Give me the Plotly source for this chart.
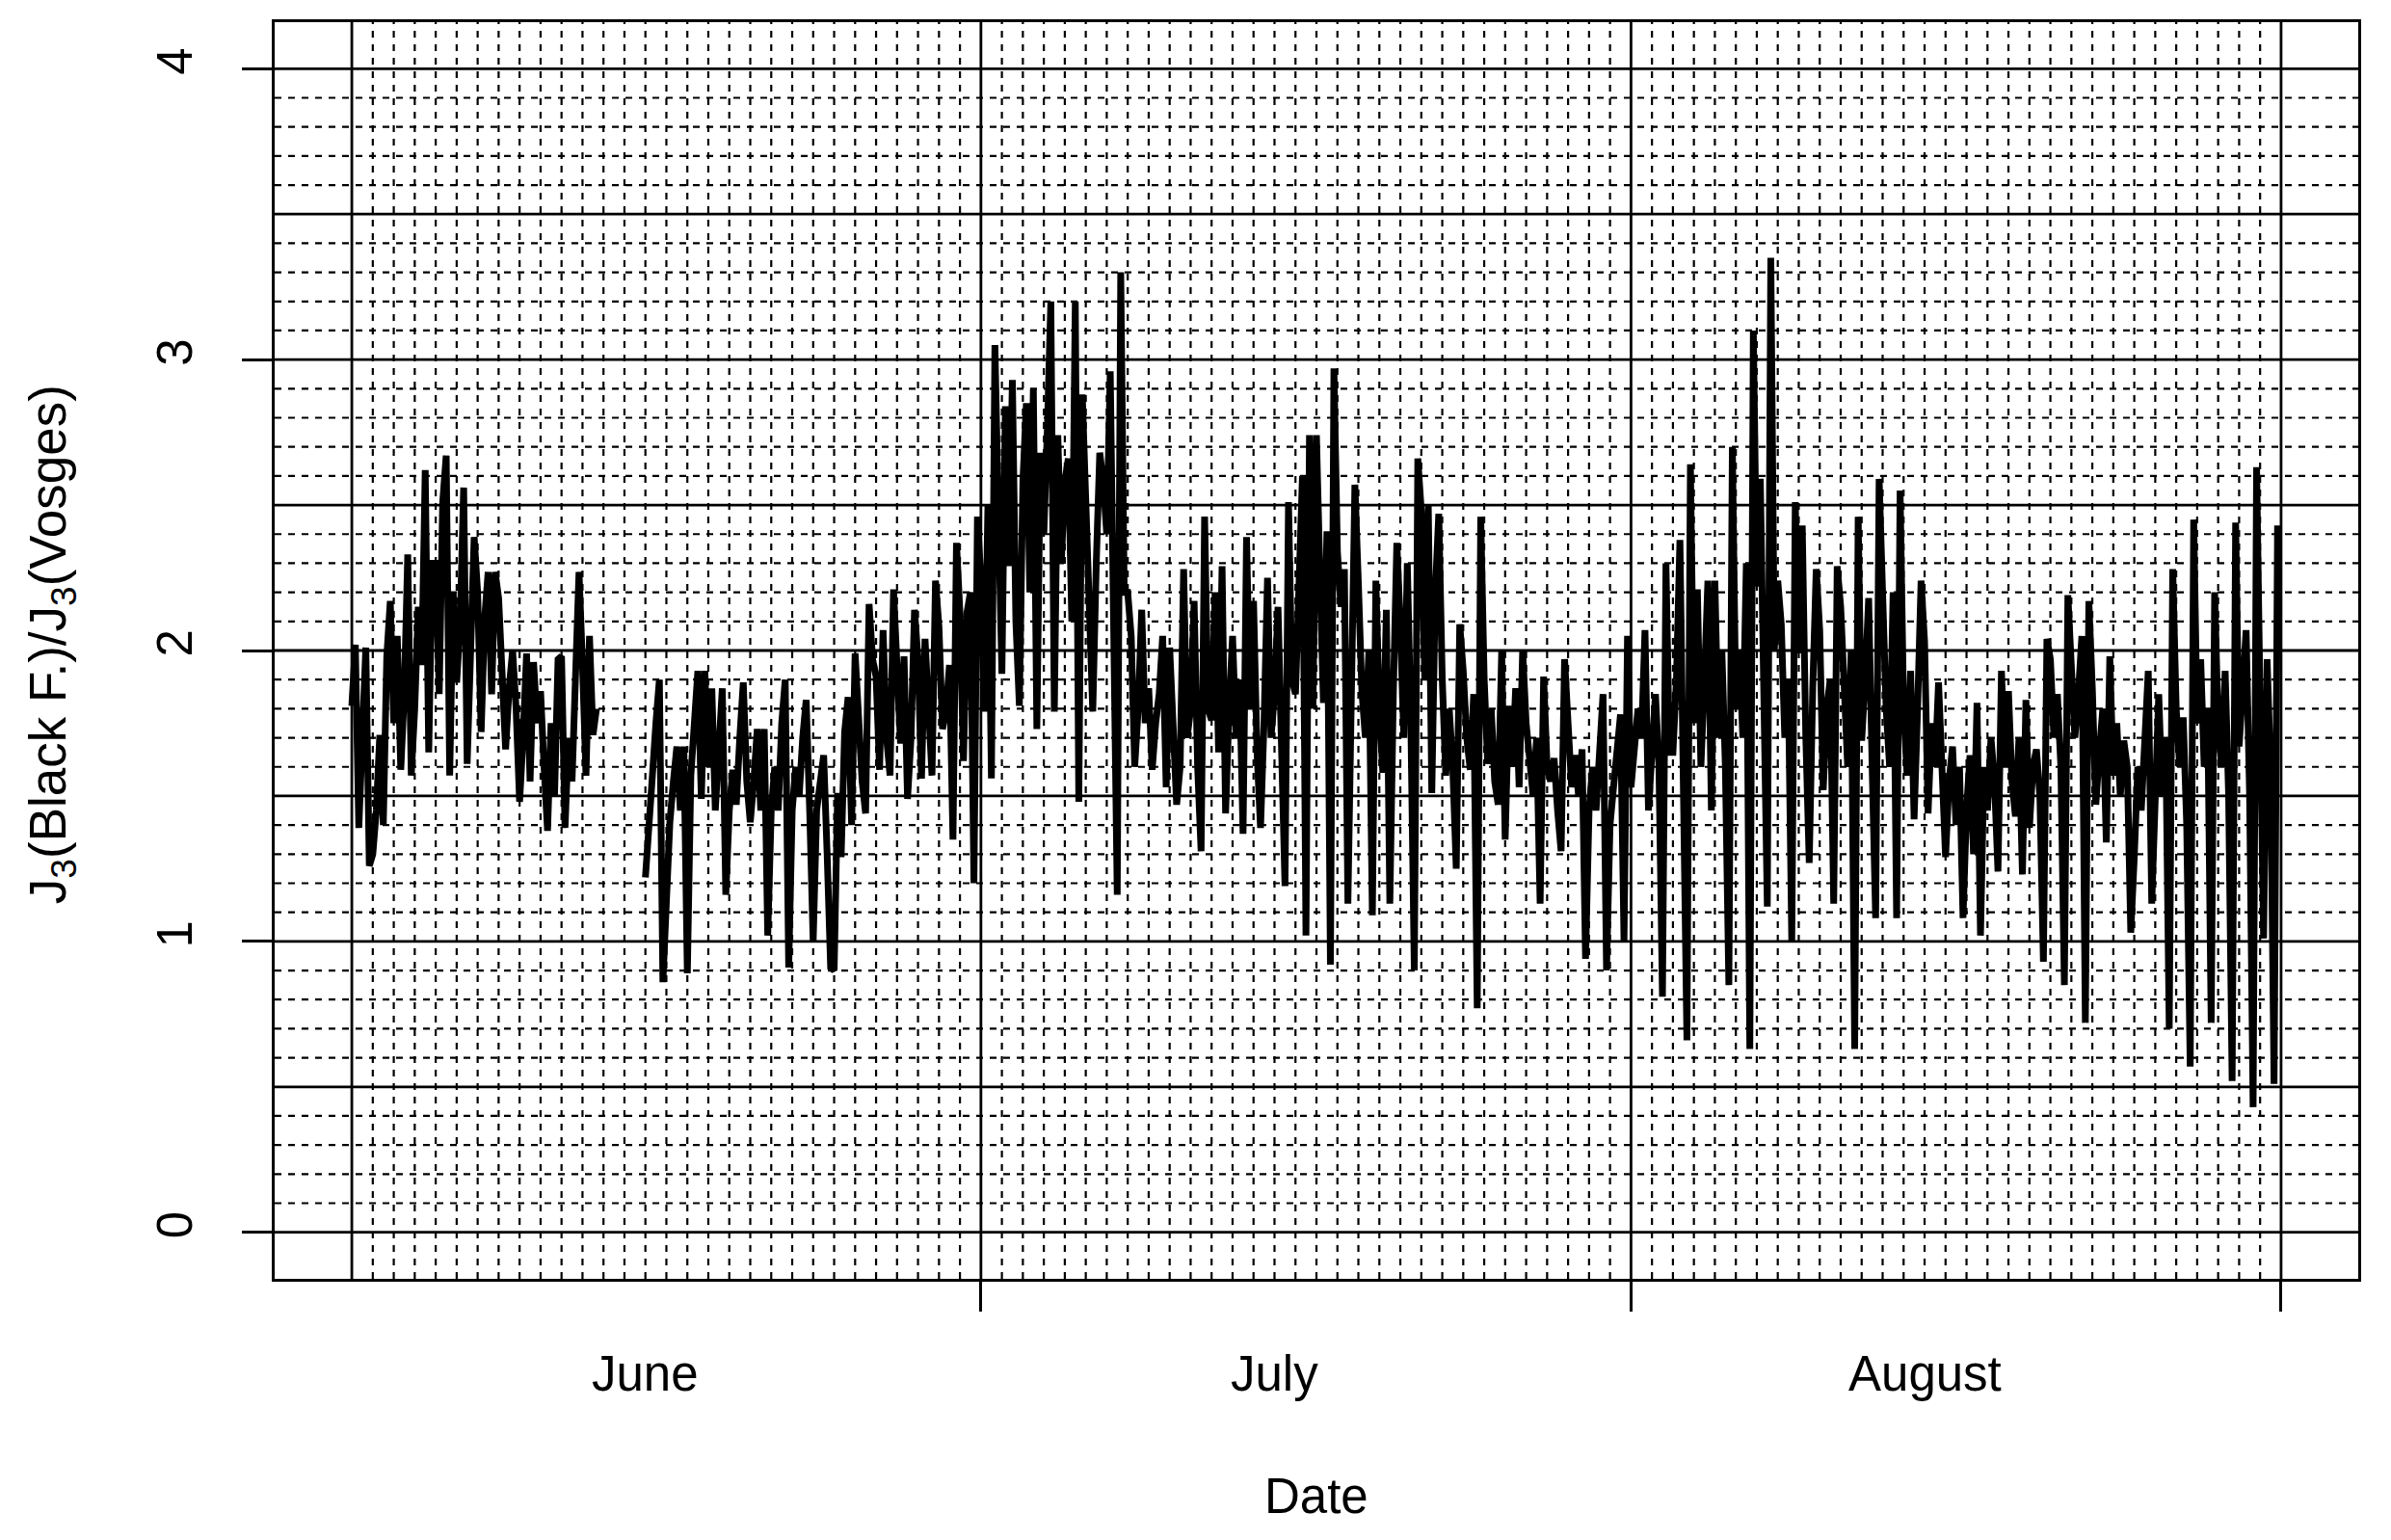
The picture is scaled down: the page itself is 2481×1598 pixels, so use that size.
import pandas as pd
import plotly.graph_objects as go

# ---------------- data (4-hourly readings) ----------------
month_starts = ["2014-06-01", "2014-07-01", "2014-08-01", "2014-09-01"]
month_labels = ["June", "July", "August"]
month_label_dates = ["2014-06-15", "2014-07-15", "2014-08-15"]
y_tick_vals = [0, 1, 2, 3, 4]

june_vals = [
    1.81, 2.02, 1.39, 1.72, 2.01, 1.26,
    1.30, 1.45, 1.71, 1.40, 1.98, 2.17,
    1.75, 2.05, 1.59, 1.85, 2.33, 1.57,
    1.80, 2.15, 1.95, 2.62, 1.65, 2.30,
    2.30, 1.85, 2.51, 2.67, 1.57, 2.20,
    1.89, 2.10, 2.56, 1.61, 2.00, 2.39,
    2.20, 1.72, 2.11, 2.27, 1.85, 2.27,
    2.18, 1.91, 1.66, 1.87, 2.00, 1.80,
    1.48, 1.70, 1.99, 1.55, 1.96, 1.75,
    1.86, 1.60, 1.38, 1.75, 1.50, 1.97,
    1.98, 1.39, 1.70, 1.55, 1.85, 2.27,
    1.95, 1.57, 2.05, 1.71, 1.80, None,
    None, None, None, None, None, None,
    None, None, None, None, None, None,
    1.22, 1.45, 1.57, 1.75, 1.90, 0.86,
    1.20, 1.41, 1.55, 1.67, 1.45, 1.67,
    0.89, 1.57, 1.75, 1.93, 1.49, 1.93,
    1.60, 1.87, 1.45, 1.70, 1.87, 1.16,
    1.45, 1.59, 1.47, 1.70, 1.89, 1.55,
    1.41, 1.55, 1.73, 1.45, 1.73, 1.02,
    1.45, 1.60, 1.45, 1.75, 1.90, 0.91,
    1.45, 1.60, 1.50, 1.70, 1.83, 1.45,
    1.00, 1.45, 1.55, 1.64, 1.30, 0.91,
    0.90, 1.51, 1.29, 1.72, 1.84, 1.40,
    1.99, 1.74, 1.55, 1.44, 2.16, 1.97,
    1.91, 1.59, 2.07, 1.70, 1.57, 2.21,
    1.98, 1.68, 1.98, 1.49, 1.70, 2.14,
    1.97, 1.56, 2.04, 1.75, 1.57, 2.24,
    2.08, 1.73, 1.79, 1.95, 1.35, 2.37,
    2.13, 1.62, 2.13, 2.20, 1.20, 2.46,
]

july_vals = [
    2.24, 1.79, 2.50, 1.56, 3.05, 2.48,
    1.92, 2.84, 2.29, 2.93, 2.10, 1.81,
    2.58, 2.85, 2.20, 2.90, 1.73, 2.68,
    2.40, 2.76, 3.20, 1.79, 2.74, 2.30,
    2.58, 2.66, 2.10, 3.20, 1.48, 2.88,
    2.52, 2.14, 1.79, 2.30, 2.68, 2.58,
    2.40, 2.96, 2.22, 1.16, 3.30, 2.20,
    2.20, 2.05, 1.60, 1.80, 2.14, 1.75,
    1.87, 1.59, 1.75, 1.85, 2.05, 1.53,
    2.01, 1.75, 1.47, 1.60, 2.28, 1.70,
    1.80, 2.17, 1.60, 1.31, 2.46, 1.80,
    1.76, 2.20, 1.65, 2.29, 1.44, 1.80,
    2.05, 1.70, 1.90, 1.37, 2.39, 1.80,
    2.17, 1.65, 1.39, 1.75, 2.25, 1.70,
    1.85, 2.15, 1.70, 1.19, 2.51, 1.90,
    1.85, 2.20, 2.60, 1.02, 2.74, 1.80,
    2.74, 2.26, 1.82, 2.41, 0.92, 2.97,
    2.34, 2.15, 2.28, 1.13, 1.80, 2.57,
    2.23, 1.86, 1.70, 2.00, 1.09, 2.24,
    1.80, 1.58, 2.14, 1.13, 1.85, 2.37,
    2.09, 1.70, 2.30, 1.76, 0.90, 2.66,
    2.48, 1.90, 2.50, 1.51, 2.20, 2.47,
    1.90, 1.57, 1.80, 1.60, 1.25, 2.09,
    1.93, 1.70, 1.59, 1.85, 0.77, 2.46,
    1.90, 1.61, 1.80, 1.55, 1.47, 2.00,
    1.35, 1.81, 1.60, 1.87, 1.53, 2.00,
    1.75, 1.62, 1.50, 1.70, 1.13, 1.91,
    1.60, 1.55, 1.63, 1.45, 1.31, 1.97,
    1.70, 1.53, 1.64, 1.50, 1.66, 0.94,
    1.45, 1.60, 1.45, 1.70, 1.85, 0.90,
    1.40, 1.53, 1.65, 1.78, 1.00, 2.05,
]

august_vals = [
    1.53, 1.64, 1.80, 1.70, 2.07, 1.45,
    1.70, 1.85, 1.60, 0.81, 2.30, 1.65,
    1.65, 1.90, 2.38, 1.50, 0.66, 2.64,
    1.75, 2.21, 1.60, 1.90, 2.24, 1.45,
    2.24, 1.70, 2.00, 1.60, 0.85, 2.70,
    1.80, 2.00, 1.70, 2.30, 0.63, 3.10,
    2.22, 2.59, 1.80, 1.12, 3.35, 2.00,
    2.24, 2.09, 1.70, 1.90, 1.00, 2.51,
    1.99, 2.43, 1.71, 1.27, 1.87, 2.28,
    2.07, 1.52, 1.80, 1.90, 1.13, 2.29,
    2.15, 1.87, 1.60, 2.00, 0.63, 2.46,
    1.69, 1.90, 2.18, 1.60, 1.08, 2.59,
    2.09, 1.80, 1.60, 2.20, 1.08, 2.55,
    1.80, 1.57, 1.93, 1.42, 1.80, 2.24,
    2.03, 1.44, 1.75, 1.60, 1.89, 1.50,
    1.29, 1.55, 1.67, 1.40, 1.60, 1.08,
    1.45, 1.64, 1.30, 1.82, 1.02, 1.60,
    1.45, 1.70, 1.55, 1.24, 1.93, 1.60,
    1.86, 1.55, 1.43, 1.70, 1.23, 1.83,
    1.39, 1.60, 1.66, 1.50, 0.93, 2.04,
    1.97, 1.70, 1.85, 1.60, 0.85, 2.19,
    1.90, 1.70, 1.85, 2.05, 0.72, 2.17,
    1.87, 1.47, 1.65, 1.80, 1.34, 1.98,
    1.57, 1.75, 1.50, 1.69, 1.60, 1.03,
    1.29, 1.60, 1.45, 1.65, 1.93, 1.13,
    1.59, 1.85, 1.50, 1.70, 0.70, 2.28,
    1.80, 1.60, 1.77, 1.40, 0.57, 2.45,
    1.75, 1.97, 1.60, 1.80, 0.72, 2.20,
    1.75, 1.60, 1.93, 1.50, 0.52, 2.44,
    1.67, 1.90, 2.07, 1.50, 0.43, 2.63,
    1.59, 1.01, 1.97, 1.60, 0.51, 2.43,
]

# ---------------- build time axis ----------------
def stamps(start, n):
    return list(pd.date_range(start, periods=n, freq="4h"))

x_all = (stamps(month_starts[0], len(june_vals))
         + stamps(month_starts[1], len(july_vals))
         + stamps(month_starts[2], len(august_vals)))
y_all = june_vals + july_vals + august_vals

t0 = pd.Timestamp(month_starts[0])
t1 = pd.Timestamp(month_starts[-1])
pad = (t1 - t0) * 0.04
x_range = [t0 - pad, t1 + pad]
y_range = [-0.16, 4.16]

FONT = "Liberation Sans, Arial, sans-serif"
FS = 51

fig = go.Figure()
fig.add_trace(go.Scatter(
    x=x_all, y=y_all, mode="lines",
    line=dict(color="black", width=7),
    connectgaps=False, showlegend=False, hoverinfo="skip",
))

# ---------------- grid (R-style abline grid) ----------------
shapes = []
for k in range(0, 41):
    yv = k / 10
    solid = (k % 5 == 0)
    shapes.append(dict(
        type="line", xref="paper", yref="y", x0=0, x1=1, y0=yv, y1=yv,
        line=dict(color="black", width=2.8 if solid else 2.2,
                  dash="solid" if solid else "7px,7px"),
        layer="below"))
month_ts = [pd.Timestamp(m) for m in month_starts]
for d in pd.date_range(t0, t1, freq="D"):
    solid = d in month_ts
    shapes.append(dict(
        type="line", xref="x", yref="paper", x0=d, x1=d, y0=0, y1=1,
        line=dict(color="black", width=2.8 if solid else 2.2,
                  dash="solid" if solid else "7px,7px"),
        layer="below"))

annotations = []
for lab, dt in zip(month_labels, month_label_dates):
    annotations.append(dict(
        text=lab, x=dt, xref="x", y=-0.0755, yref="paper",
        xanchor="center", yanchor="middle", showarrow=False,
        font=dict(family=FONT, size=FS, color="black")))
annotations.append(dict(
    text="Date", x=0.4998, xref="paper", y=-0.173, yref="paper",
    xanchor="center", yanchor="middle", showarrow=False,
    font=dict(family=FONT, size=FS, color="black")))
annotations.append(dict(
    text="J<sub>3</sub>(Black F.)/J<sub>3</sub>(Vosges)",
    x=-0.107, xref="paper", y=0.505, yref="paper",
    xanchor="center", yanchor="middle", textangle=-90, showarrow=False,
    font=dict(family=FONT, size=53, color="black")))

# page body has an 8px margin: shrink the figure and margins to compensate
fig.update_layout(
    width=2473, height=1590,
    margin=dict(l=277, r=34, t=12, b=271),
    paper_bgcolor="white", plot_bgcolor="white",
    shapes=shapes, annotations=annotations,
    font=dict(family=FONT, size=FS, color="black"),
    xaxis=dict(
        type="date", range=x_range,
        tickvals=month_starts[1:], showticklabels=False,
        ticks="outside", ticklen=31, tickwidth=3, tickcolor="black",
        showgrid=False, zeroline=False,
        showline=True, linewidth=3, linecolor="black", mirror=True,
    ),
    yaxis=dict(
        range=y_range, tickvals=y_tick_vals,
        ticktext=[str(v) for v in y_tick_vals],
        tickangle=-90, ticks="outside", ticklen=31, tickwidth=3,
        tickcolor="black", ticklabelstandoff=32,
        tickfont=dict(family=FONT, size=FS, color="black"),
        showgrid=False, zeroline=False,
        showline=True, linewidth=3, linecolor="black", mirror=True,
    ),
)

fig.write_html("out.html")
